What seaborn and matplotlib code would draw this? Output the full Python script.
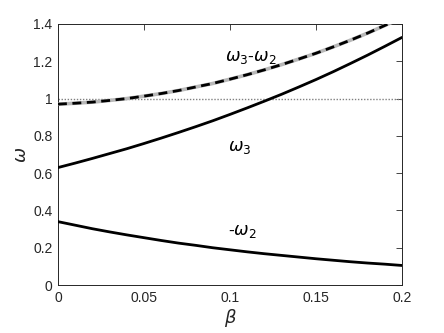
import matplotlib.pyplot as plt
import numpy as np
import pandas as pd
import seaborn as sns

# beta values (x axis)
beta = [0.00, 0.01, 0.02, 0.03, 0.04, 0.05, 0.06, 0.07, 0.08, 0.09, 0.10,
        0.11, 0.12, 0.13, 0.14, 0.15, 0.16, 0.17, 0.18, 0.19, 0.20]

# omega_3
omega3 = [0.630, 0.654, 0.679, 0.705, 0.731, 0.759, 0.788, 0.818, 0.849, 0.881, 0.915,
          0.950, 0.986, 1.023, 1.062, 1.102, 1.144, 1.188, 1.233, 1.280, 1.328]

# -omega_2
neg_omega2 = [0.340, 0.321, 0.302, 0.285, 0.269, 0.254, 0.239, 0.225, 0.213, 0.200, 0.189,
              0.178, 0.168, 0.159, 0.150, 0.141, 0.133, 0.125, 0.118, 0.112, 0.105]

x_ticks = [0, 0.05, 0.1, 0.15, 0.2]
x_tick_labels = ["0", "0.05", "0.1", "0.15", "0.2"]
y_ticks = [0, 0.2, 0.4, 0.6, 0.8, 1.0, 1.2, 1.4]
y_tick_labels = ["0", "0.2", "0.4", "0.6", "0.8", "1", "1.2", "1.4"]

df = pd.DataFrame({"beta": beta, "w3": omega3, "mw2": neg_omega2})
df["diff"] = df["w3"] + df["mw2"]

sns.set_style("white")
plt.rcParams["font.family"] = ["Liberation Sans", "DejaVu Sans"]
plt.rcParams["mathtext.fontset"] = "dejavusans"

fig = plt.figure(figsize=(4.44, 3.33), dpi=100)
ax = fig.add_axes([0.1306, 0.144, 0.7748, 0.784])

# reference line at omega = 1
ax.axhline(1.0, color="0.5", lw=1.0, ls=(0, (1, 1.2)), zorder=1)

sns.lineplot(data=df, x="beta", y="w3", ax=ax, color="black", lw=2, zorder=3)
sns.lineplot(data=df, x="beta", y="mw2", ax=ax, color="black", lw=2, zorder=3)
# omega3 - omega2: grey solid under a black dashed line
sns.lineplot(data=df, x="beta", y="diff", ax=ax, color="0.72", lw=2.6, zorder=3)
sns.lineplot(data=df, x="beta", y="diff", ax=ax, color="black", lw=2,
             ls=(0, (3.2, 2)), zorder=4)

ax.set_xlim(0, 0.2)
ax.set_ylim(0, 1.4)
ax.set_xticks(x_ticks)
ax.set_xticklabels(x_tick_labels)
ax.set_yticks(y_ticks)
ax.set_yticklabels(y_tick_labels)
ax.tick_params(direction="in", length=4, width=0.6, colors="0.15",
               labelsize=10, top=True, right=True, pad=4)
for s in ax.spines.values():
    s.set_color("0.15")
    s.set_linewidth(0.7)

ax.set_xlabel(r"$\beta$", fontsize=13, color="0.15", labelpad=2)
ax.set_ylabel(r"$\omega$", fontsize=13, color="0.15", labelpad=2)

lab = dict(fontsize=12.5, va="center", color="black")
ax.text(0.097, 1.22, r"$\omega_{\mathsf{3}}$-$\omega_{\mathsf{2}}$", **lab)
ax.text(0.099, 0.74, r"$\omega_{\mathsf{3}}$", **lab)
ax.text(0.099, 0.285, r"-$\omega_{\mathsf{2}}$", **lab)

fig.savefig("out.png", dpi=100)
